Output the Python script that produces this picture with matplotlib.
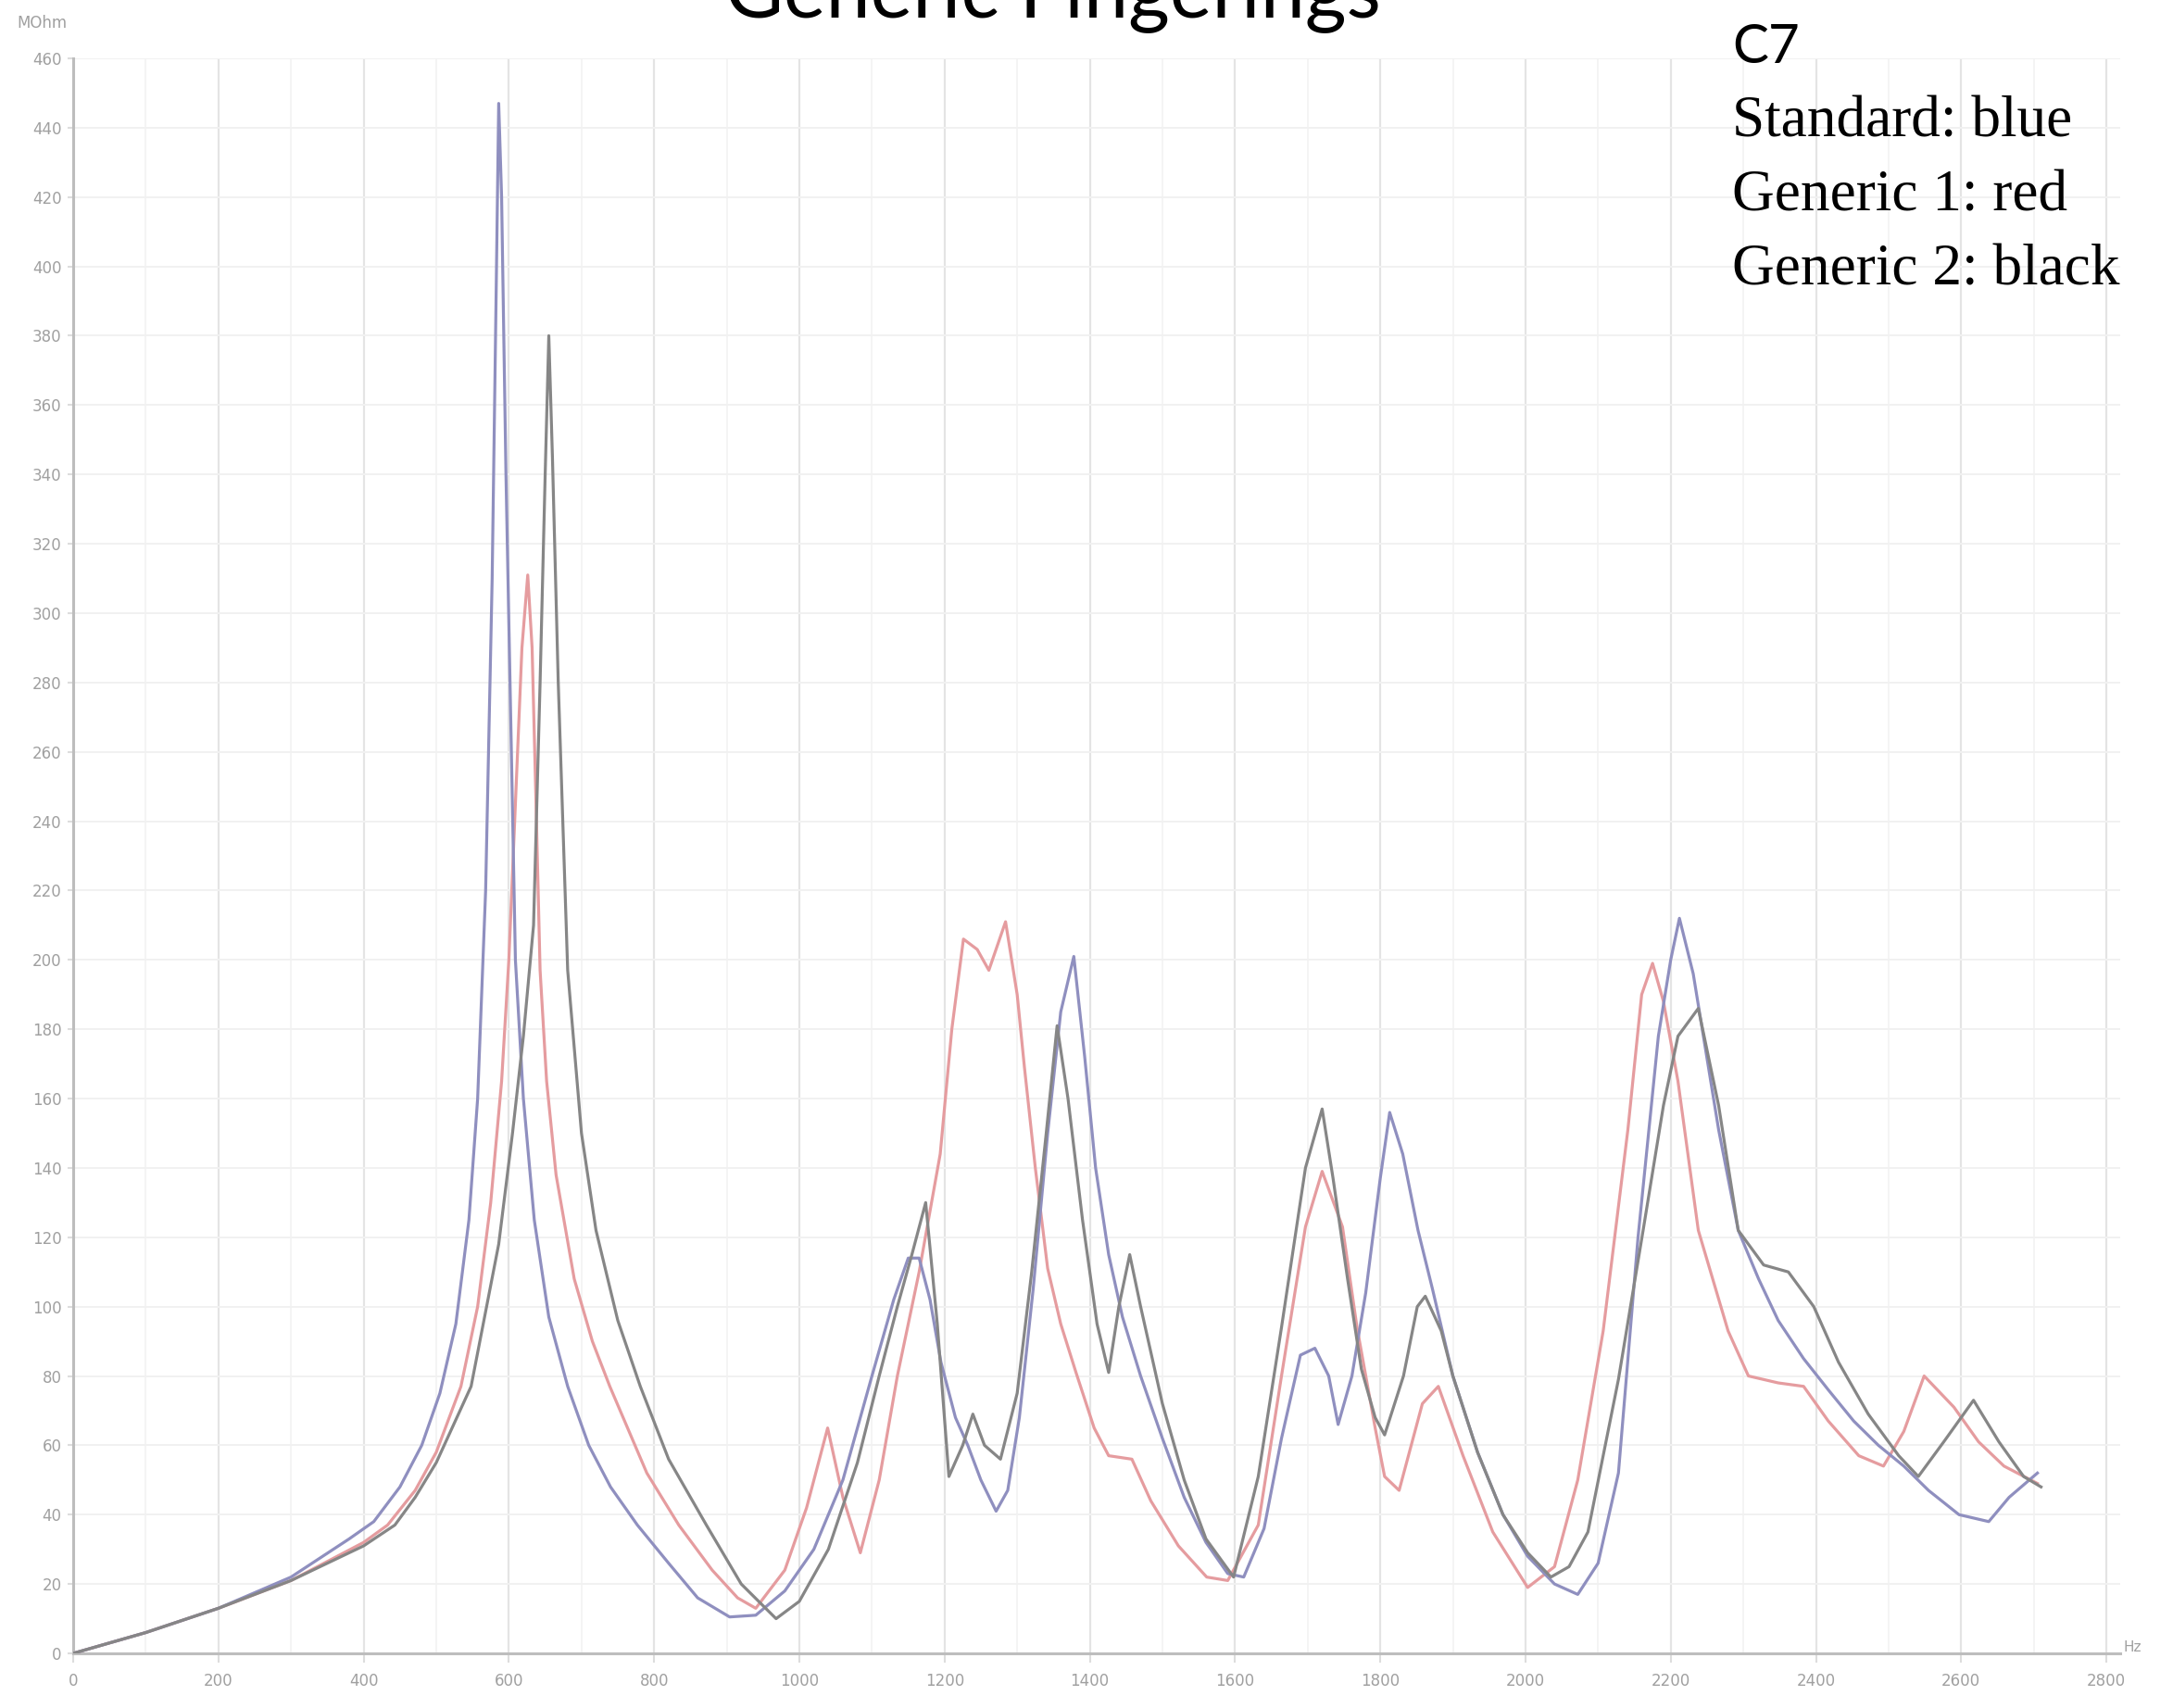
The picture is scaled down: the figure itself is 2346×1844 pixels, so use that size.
import matplotlib
matplotlib.use("Agg")
import matplotlib.pyplot as plt
from matplotlib.ticker import MultipleLocator

# ---------------- data ----------------
freq_standard = [
    0, 100, 200, 300, 380, 414, 450, 480, 505, 527,
    545, 557, 568, 577, 583, 586, 590, 596, 603, 609,
    620, 635, 655, 681, 710, 740, 777, 820, 860, 904,
    940, 980, 1020, 1060, 1100, 1130, 1150, 1165, 1180, 1195,
    1215, 1232, 1250, 1271, 1287, 1303, 1322, 1342, 1360, 1378,
    1393, 1408, 1426, 1445, 1470, 1500, 1530, 1560, 1590, 1612,
    1640, 1664, 1690, 1710, 1729, 1742, 1761, 1780, 1800, 1813,
    1831, 1852, 1872, 1900, 1934, 1969, 2003, 2040, 2072, 2100,
    2128, 2155, 2183, 2200, 2212, 2231, 2266, 2293, 2321, 2348,
    2383, 2417, 2452, 2486, 2521, 2555, 2597, 2638, 2666, 2705,
]
z_standard = [
    0, 6, 13, 22, 33, 38, 48, 60, 75, 95,
    125, 160, 220, 310, 400, 447, 420, 340, 265, 200,
    160, 125, 97, 77, 60, 48, 37, 26, 16, 10.5,
    11, 18, 30, 50, 80, 102, 114, 114, 102, 84,
    68, 60, 50, 41, 47, 68, 105, 150, 185, 201,
    172, 140, 115, 97, 80, 62, 45, 32, 23, 22,
    36, 62, 86, 88, 80, 66, 80, 104, 137, 156,
    144, 122, 105, 80, 58, 40, 28, 20, 17, 26,
    52, 120, 178, 200, 212, 196, 151, 122, 108, 96,
    85, 76, 67, 60, 54, 47, 40, 38, 45, 52,
]

freq_generic1 = [
    0, 100, 200, 300, 400, 433, 471, 500, 534, 557,
    575, 590, 600, 610, 618, 626, 632, 638, 643, 652,
    665, 690, 715, 739, 790, 834, 880, 915, 940, 980,
    1010, 1039, 1060, 1084, 1110, 1135, 1165, 1194, 1210, 1226,
    1245, 1261, 1284, 1300, 1310, 1325, 1342, 1360, 1381, 1406,
    1426, 1458, 1484, 1522, 1561, 1590, 1632, 1664, 1697, 1720,
    1748, 1768, 1793, 1806, 1826, 1858, 1880, 1914, 1955, 2003,
    2040, 2072, 2107, 2141, 2160, 2175, 2190, 2210, 2238, 2279,
    2307, 2348, 2383, 2417, 2459, 2493, 2521, 2549, 2590, 2624,
    2659, 2705,
]
z_generic1 = [
    0, 6, 13, 21, 32, 37, 47, 58, 77, 100,
    130, 165, 200, 250, 290, 311, 290, 240, 197, 165,
    138, 108, 90, 77, 52, 37, 24, 16, 13, 24,
    42, 65, 45, 29, 50, 80, 110, 144, 180, 206,
    203, 197, 211, 190, 169, 140, 111, 95, 81, 65,
    57, 56, 44, 31, 22, 21, 37, 80, 123, 139,
    123, 94, 65, 51, 47, 72, 77, 57, 35, 19,
    25, 50, 93, 151, 190, 199, 188, 165, 122, 93,
    80, 78, 77, 67, 57, 54, 64, 80, 71, 61,
    54, 49,
]

freq_generic2 = [
    0, 100, 200, 300, 400, 443, 471, 500, 548, 586,
    605, 620, 634, 643, 650, 655, 660, 668, 681, 700,
    720, 750, 781, 820, 872, 920, 968, 1000, 1040, 1080,
    1110, 1135, 1155, 1174, 1190, 1206, 1225, 1239, 1255, 1277,
    1300, 1320, 1340, 1355, 1370, 1390, 1410, 1426, 1440, 1455,
    1470, 1500, 1530, 1560, 1598, 1632, 1664, 1697, 1720, 1735,
    1755, 1774, 1793, 1806, 1832, 1851, 1862, 1884, 1900, 1934,
    1969, 2003, 2035, 2060, 2086, 2128, 2162, 2190, 2210, 2238,
    2266, 2293, 2328, 2362, 2397, 2431, 2472, 2514, 2541, 2576,
    2617, 2652, 2686, 2710,
]
z_generic2 = [
    0, 6, 13, 21, 31, 37, 45, 55, 77, 118,
    150, 178, 210, 280, 340, 380, 345, 280, 197, 150,
    122, 96, 77, 56, 37, 20, 10, 15, 30, 55,
    80, 100, 115, 130, 95, 51, 60, 69, 60, 56,
    75, 110, 150, 181, 160, 125, 95, 81, 100, 115,
    100, 72, 50, 33, 22, 51, 94, 140, 157, 137,
    108, 82, 68, 63, 80, 100, 103, 93, 80, 58,
    40, 29, 22, 25, 35, 79, 122, 158, 178, 186,
    158, 122, 112, 110, 100, 84, 69, 57, 51, 61,
    73, 61, 51, 48,
]

x_ticks = list(range(0, 2801, 200))
y_ticks = list(range(0, 461, 20))

title_text = "Generic Fingerings"
note_title = "C7"
note_lines = ["Standard: blue", "Generic 1: red", "Generic 2: black"]
y_unit = "MOhm"
x_unit = "Hz"

# ---------------- figure ----------------
W, H = 2346, 1844
fig = plt.figure(figsize=(W / 100, H / 100), dpi=100)
fig.patch.set_facecolor("white")

left, right, bottom_px, top_px = 79, 2289, 1785, 63
ax = fig.add_axes([left / W, (H - bottom_px) / H, (right - left) / W, (bottom_px - top_px) / H])
ax.set_xlim(0, 2819)
ax.set_ylim(0, 460)

ax.plot(freq_generic1, z_generic1, color="#e59c9f", lw=2.3, zorder=3, solid_joinstyle="round")
ax.plot(freq_standard, z_standard, color="#8f8fbf", lw=2.3, zorder=4, solid_joinstyle="round")
ax.plot(freq_generic2, z_generic2, color="#868686", lw=2.3, zorder=5, solid_joinstyle="round")

ax.set_xticks(x_ticks)
ax.set_yticks(y_ticks)
ax.xaxis.set_minor_locator(MultipleLocator(100))
ax.grid(True, which="major", axis="x", color="#e4e4e4", lw=1.6, zorder=0)
ax.grid(True, which="minor", axis="x", color="#f4f4f4", lw=1.4, zorder=0)
ax.grid(True, which="major", axis="y", color="#f1f1f1", lw=1.4, zorder=0)

for s in ["top", "right"]:
    ax.spines[s].set_visible(False)
for s in ["left", "bottom"]:
    ax.spines[s].set_color("#bdbdbd")
    ax.spines[s].set_linewidth(2.2)

ax.tick_params(axis="x", which="major", length=7, width=1.5, color="#dddddd",
               labelsize=12, labelcolor="#a0a0a0", pad=8)
ax.tick_params(axis="x", which="minor", length=0)
ax.tick_params(axis="y", length=4, width=1.5, color="#dddddd",
               labelsize=12, labelcolor="#a0a0a0", pad=5)

fig.text(18 / W, 1 - 30 / H, y_unit, fontsize=12, color="#a0a0a0", va="baseline", ha="left")
fig.text(2292 / W, 1 - 1783 / H, x_unit, fontsize=11, color="#a0a0a0", va="baseline", ha="left")

# title (partially cut off at top, as in the reference)
t = fig.text(1137 / W, 1 - 18 / H, title_text, fontsize=60, family=["Lato", "DejaVu Sans"],
             color="black", ha="center", va="baseline")
fig.canvas.draw()
r = fig.canvas.get_renderer()
bw = t.get_window_extent(r).width
t.set_fontsize(60 * 709 / bw)

# annotation block
fig.text(1870 / W, 1 - 68 / H, note_title, fontsize=42, family=["Lato", "DejaVu Sans"],
         color="black", ha="left", va="baseline")
for i, line in enumerate(note_lines):
    fig.text(1870 / W, 1 - (148 + 80 * i) / H, line, fontsize=45.5,
             family=["Liberation Serif", "DejaVu Serif"], color="black",
             ha="left", va="baseline")

fig.savefig("out.png", dpi=100, facecolor="white")
